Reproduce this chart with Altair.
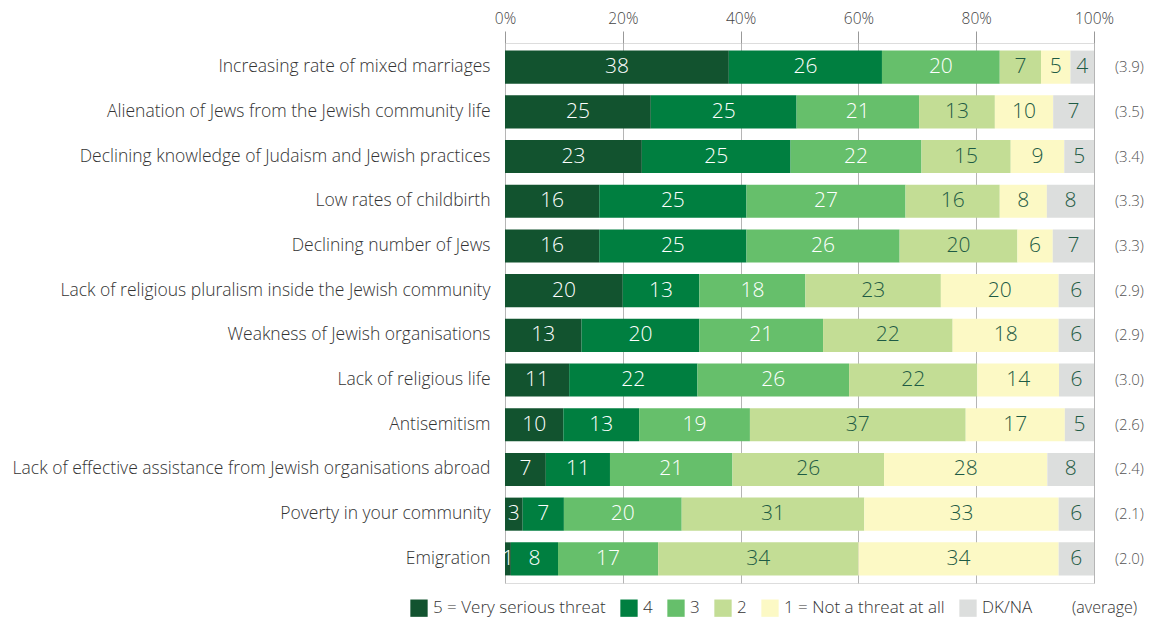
import altair as alt
import pandas as pd

categories = [
    "Increasing rate of mixed marriages",
    "Alienation of Jews from the Jewish community life",
    "Declining knowledge of Judaism and Jewish practices",
    "Low rates of childbirth",
    "Declining number of Jews",
    "Lack of religious pluralism inside the Jewish community",
    "Weakness of Jewish organisations",
    "Lack of religious life",
    "Antisemitism",
    "Lack of effective assistance from Jewish organisations abroad",
    "Poverty in your community",
    "Emigration",
]
levels = ["5 = Very serious threat", "4", "3", "2", "1 = Not a threat at all", "DK/NA"]
v5 = [38, 25, 23, 16, 16, 20, 13, 11, 10, 7, 3, 1]
v4 = [26, 25, 25, 25, 25, 13, 20, 22, 13, 11, 7, 8]
v3 = [20, 21, 22, 27, 26, 18, 21, 26, 19, 21, 20, 17]
v2 = [7, 13, 15, 16, 20, 23, 22, 22, 37, 26, 31, 34]
v1 = [5, 10, 9, 8, 6, 20, 18, 14, 17, 28, 33, 34]
dk = [4, 7, 5, 8, 7, 6, 6, 6, 5, 8, 6, 6]
averages = ["(3.9)", "(3.5)", "(3.4)", "(3.3)", "(3.3)", "(2.9)",
            "(2.9)", "(3.0)", "(2.6)", "(2.4)", "(2.1)", "(2.0)"]
colors = ["#12532f", "#007f40", "#66bf6b", "#c3dd95", "#fcf9c5", "#dcdedd"]
xticks = [0, 0.2, 0.4, 0.6, 0.8, 1.0]

series = [v5, v4, v3, v2, v1, dk]
rows = []
for ci, cat in enumerate(categories):
    for li, lev in enumerate(levels):
        rows.append({"category": cat, "level": lev, "order": li, "value": series[li][ci]})
df = pd.DataFrame(rows)
avg_df = pd.DataFrame({"category": categories, "avg": averages})

W, H = 589, 540
FONT = "Open Sans"

base = alt.Chart(df).transform_stack(
    stack="value", groupby=["category"], as_=["v0", "v1"],
    sort=[alt.SortField("order", order="ascending")], offset="normalize"
).transform_calculate(mid="(datum.v0 + datum.v1) / 2")

yenc = alt.Y("category:N", sort=categories, title=None,
             scale=alt.Scale(paddingInner=0.26, paddingOuter=0.17),
             axis=alt.Axis(domain=False, ticks=False, labelFontSize=17.5, labelColor="#333333",
                           labelPadding=15, labelLimit=600, labelFont=FONT, labelFontWeight=300))

bars = base.mark_bar().encode(
    x=alt.X("v0:Q", title=None, scale=alt.Scale(domain=[0, 1], nice=False),
            axis=alt.Axis(orient="top", values=xticks, format="%", domain=False,
                          tickSize=12, tickColor="#999999", gridColor="#b5b5b5",
                          labelFontSize=15.5, labelColor="#444444", labelPadding=5,
                          labelFlush=False, labelOverlap=False,
                          labelFont=FONT, labelFontWeight=300)),
    x2="v1:Q",
    y=yenc,
    color=alt.Color("level:N", scale=alt.Scale(domain=levels, range=colors),
                    legend=alt.Legend(title=None, orient="none", legendX=-95, legendY=556,
                                      direction="horizontal", columns=6, symbolType="square",
                                      symbolSize=300, symbolStrokeWidth=0, labelFontSize=17,
                                      labelColor="#333333", labelOffset=5, columnPadding=14,
                                      labelFont=FONT, labelFontWeight=300, labelLimit=300)),
)

labels = base.mark_text(fontSize=21, font=FONT, fontWeight=300).encode(
    x=alt.X("mid:Q"),
    y=alt.Y("category:N", sort=categories),
    text=alt.Text("value:Q"),
    color=alt.condition(alt.datum.order < 3, alt.value("white"), alt.value("#1e5b44")),
)

avg = alt.Chart(avg_df).mark_text(align="left", fontSize=15, color="#555555",
                                  font=FONT, fontWeight=300).encode(
    x=alt.value(W + 21),
    y=alt.Y("category:N", sort=categories),
    text="avg:N",
)

avg_title = alt.Chart(pd.DataFrame({"t": ["(average)"]})).mark_text(
    align="left", fontSize=16, color="#333333", font=FONT, fontWeight=300
).encode(x=alt.value(567), y=alt.value(565), text="t:N")

chart = alt.layer(bars, labels, avg, avg_title).properties(
    width=W, height=H,
    autosize=alt.AutoSizeParams(type="none"),
    padding={"left": 505, "top": 43, "right": 56, "bottom": 37},
).configure_view(stroke=None).configure(font=FONT)

chart.save("out.html", embed_options={"renderer": "svg", "actions": False})
